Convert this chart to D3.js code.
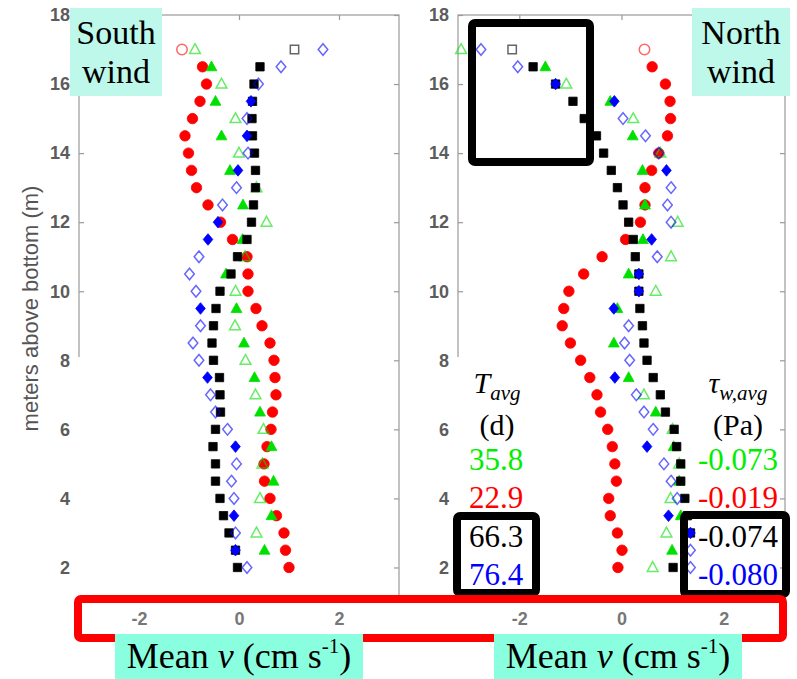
<!DOCTYPE html>
<html>
<head>
<meta charset="utf-8">
<script src="https://cdn.jsdelivr.net/npm/d3@7"></script>
<style>
  body { margin: 0; background: #fff; }
  svg { display: block; }
</style>
</head>
<body>
<svg id="fig" width="797" height="679"></svg>
<script>
// Measurement heights (m above bottom), top bin first
const depths = [17, 16.5, 16, 15.5, 15, 14.5, 14, 13.5, 13, 12.5, 12, 11.5, 11, 10.5, 10,
                9.5, 9, 8.5, 8, 7.5, 7, 6.5, 6, 5.5, 5, 4.5, 4, 3.5, 3, 2.5, 2];

// Mean v (cm/s) for south-wind events, one array per event
const southGreen = [-0.88, -0.55, -0.35, -0.47, -0.07, -0.35, 0.00, -0.18, 0.35, 0.08, 0.55, 0.07, 0.12, -0.26, -0.07,
                    -0.05, -0.08, 0.10, 0.13, 0.31, 0.33, 0.42, 0.49, 0.65, 0.47, 0.69, 0.42, 0.65, 0.35, 0.51, null];
const southRed   = [-1.14, -0.73, -0.65, -0.78, -0.93, -1.08, -1.01, -0.95, -0.85, -0.62, -0.37, -0.13, 0.16, 0.18, 0.18,
                    0.34, 0.46, 0.62, 0.70, 0.72, 0.74, 0.67, 0.64, 0.56, 0.50, 0.51, 0.62, 0.75, 0.90, 0.93, 1.00];
const southBlack = [1.11, 0.42, 0.30, 0.27, 0.26, 0.27, 0.31, 0.33, 0.33, 0.29, 0.25, 0.16, -0.03, -0.16, -0.38,
                    -0.46, -0.51, -0.54, -0.51, -0.39, -0.38, -0.37, -0.47, -0.52, -0.47, -0.47, -0.38, -0.31, -0.20, -0.07, -0.03];
const southBlue  = [1.68, 0.84, 0.39, 0.24, 0.16, 0.16, 0.18, -0.02, -0.05, -0.33, -0.42, -0.62, -0.80, -0.99, -0.86,
                    -0.77, -0.77, -0.92, -0.80, -0.63, -0.57, -0.47, -0.23, -0.07, -0.05, -0.15, -0.10, -0.10, -0.07, -0.07, 0.16];
const southBlueSolid = [15.5, 14.5, 13.5, 12, 11.5, 9.5, 7.5, 5.5, 3.5, 2.5];

// Mean v (cm/s) for north-wind events
const northGreen = [-3.14, -1.49, -1.08, -0.22, 0.23, 0.22, 0.76, 0.41, null, 0.46, 1.10, 0.42, 0.97, 0.14, 0.67,
                    -0.08, null, -0.15, null, 0.14, 0.44, 0.67, 1.00, 1.02, 1.13, 1.13, 0.96, 1.16, 0.88, 0.99, 0.61];
const northRed   = [0.45, 0.60, 0.86, 0.95, 0.96, 0.90, 0.73, 0.59, 0.46, 0.46, 0.37, 0.08, -0.38, -0.74, -1.03,
                    -1.13, -1.16, -1.00, -0.80, -0.62, -0.48, -0.41, -0.27, -0.18, -0.13, -0.10, -0.25, -0.22, -0.08, 0.01, -0.07];
const northBlack = [-2.14, -1.73, -1.29, -0.95, -0.73, -0.49, -0.35, -0.20, -0.08, 0.03, 0.14, 0.23, 0.27, 0.34, 0.34,
                    0.36, 0.41, 0.44, 0.50, 0.62, 0.76, 0.86, 1.03, 1.08, 1.16, 1.16, 1.24, 1.29, 1.35, null, 1.01];
const northBlue  = [-2.75, -2.03, -1.29, -0.14, 0.03, 0.47, 0.73, 0.88, 0.97, 0.90, 0.97, 0.59, 0.70, 0.34, 0.34,
                    -0.15, 0.14, 0.06, 0.16, -0.13, 0.29, 0.44, 0.62, 0.50, 0.83, 0.97, 1.09, 0.92, 1.35, 1.35, 1.35];
const northBlueSolid = [16, 15.5, 13.5, 11.5, 10.5, 10, 9.5, 7.5, 5.5, 3.5, 3];

// Event summaries: average duration (d) and mean wind stress (Pa)
const eventColors = ["#00ee00", "#ff0000", "#000000", "#0000ff"];
const tAvg = ["35.8", "22.9", "66.3", "76.4"];
const tauAvg = ["-0.073", "-0.019", "-0.074", "-0.080"];

const xTicks = [-2, 0, 2];
const yTicks = [2, 4, 6, 8, 10, 12, 14, 16, 18];
const panelTitles = [["South", "wind"], ["North", "wind"]];

const svg = d3.select("#fig");
const serif = "'Liberation Serif', 'Times New Roman', serif";
const sans = "'Liberation Sans', Arial, Helvetica, sans-serif";

// Marker shapes in the MATLAB style
const diamondType = { draw(ctx, size) { const h = 5.8, w = 4.8; ctx.moveTo(0, -h); ctx.lineTo(w, 0); ctx.lineTo(0, h); ctx.lineTo(-w, 0); ctx.closePath(); } };
const triangleType = { draw(ctx, size) { ctx.moveTo(0, -5.8); ctx.lineTo(5.4, 4); ctx.lineTo(-5.4, 4); ctx.closePath(); } };

const y = d3.scaleLinear().domain([1, 18]).range([602, 15]);

const panels = [
  { xr: [79, 399], green: southGreen, red: southRed, black: southBlack, blue: southBlue, blueSolid: southBlueSolid },
  { xr: [458, 785], green: northGreen, red: northRed, black: northBlack, blue: northBlue, blueSolid: northBlueSolid }
];

const axisGray = "#9a9a9a";
const tickText = "#5c5c5c";
const plainNum = d => String(d);

panels.forEach((p, pi) => {
  const x = d3.scaleLinear().domain([-3.2, 3.2]).range(p.xr);
  const g = svg.append("g");

  // Axes box
  g.append("rect").attr("x", p.xr[0]).attr("y", y(18)).attr("width", p.xr[1] - p.xr[0]).attr("height", y(1) - y(18))
    .attr("fill", "none").attr("stroke", axisGray).attr("stroke-width", 1.2);

  // Inward ticks on all four sides
  const yAxisL = d3.axisLeft(y).tickValues(yTicks).tickSize(-5).tickPadding(9).tickFormat(plainNum);
  const gl = g.append("g").attr("transform", `translate(${p.xr[0]},0)`).call(yAxisL);
  const yAxisR = d3.axisRight(y).tickValues(yTicks).tickSize(-5).tickFormat("");
  const gr = g.append("g").attr("transform", `translate(${p.xr[1]},0)`).call(yAxisR);
  const xAxisT = d3.axisTop(x).tickValues(xTicks).tickSize(-5).tickFormat("");
  const gt = g.append("g").attr("transform", `translate(0,${y(18)})`).call(xAxisT);
  const xAxisB = d3.axisBottom(x).tickValues(xTicks).tickSize(-5).tickPadding(10).tickFormat(plainNum);
  const gb = g.append("g").attr("transform", `translate(0,${y(1)})`).call(xAxisB);
  [gl, gr, gt, gb].forEach(a => {
    a.select(".domain").remove();
    a.selectAll(".tick line").attr("stroke", axisGray).attr("stroke-width", 1.2);
    a.selectAll(".tick text").attr("fill", tickText).attr("font-family", sans).attr("font-size", 18).attr("font-weight", "bold");
  });
  gb.selectAll(".tick text").attr("fill", "#777").attr("dy", "0.71em");

  // Velocity profiles
  const series = [
    { vals: p.red, color: "#ff0000", type: d3.symbolCircle, size: 86, solid: d => d !== 17 },
    { vals: p.green, color: "#00e000", type: triangleType, size: 0, solid: d => d % 1 !== 0 },
    { vals: p.black, color: "#000000", type: d3.symbolSquare, size: 70, solid: d => d !== 17 },
    { vals: p.blue, color: "#0000ff", type: diamondType, size: 0, solid: d => p.blueSolid.includes(d) }
  ];
  series.forEach(s => {
    const pts = depths.map((d, i) => ({ d, v: s.vals[i] })).filter(o => o.v !== null);
    g.append("g").selectAll("path").data(pts).join("path")
      .attr("transform", o => `translate(${x(o.v)},${y(o.d)})`)
      .attr("d", d3.symbol().type(s.type).size(s.size))
      .attr("fill", o => s.solid(o.d) ? s.color : "none")
      .attr("stroke", s.color)
      .attr("stroke-width", o => s.solid(o.d) ? 0.8 : 1.5)
      .attr("stroke-opacity", o => s.solid(o.d) ? 1 : 0.6);
  });
});

// Axis label
svg.append("text").attr("transform", `translate(38,${(y(1) + y(18)) / 2}) rotate(-90)`)
  .attr("text-anchor", "middle").attr("font-family", sans).attr("font-size", 22)
  .attr("fill", "#555").text("meters above bottom (m)");

// Blank patches behind the annotation columns
svg.append("rect").attr("x", 75).attr("y", 357).attr("width", 73).attr("height", 240).attr("fill", "#fff");
svg.append("rect").attr("x", 455).attr("y", 357).attr("width", 84).attr("height", 240).attr("fill", "#fff");

// Duration column
const tCol = svg.append("g").attr("font-family", serif).attr("text-anchor", "middle");
const tHead = tCol.append("text").attr("x", 497).attr("y", 393).attr("font-size", 30).attr("fill", "#000");
tHead.append("tspan").attr("font-style", "italic").text("T");
tHead.append("tspan").attr("font-style", "italic").attr("font-size", 21).attr("dy", 7).text("avg");
tCol.append("text").attr("x", 497).attr("y", 435).attr("font-size", 30).text("(d)");
tCol.selectAll("text.val").data(tAvg).join("text").attr("class", "val")
  .attr("x", 496).attr("y", (d, i) => [470, 508, 547, 585][i])
  .attr("font-size", 31).attr("fill", (d, i) => eventColors[i]).text(d => d);

// Wind stress column
const sCol = svg.append("g").attr("font-family", serif).attr("text-anchor", "middle");
const sHead = sCol.append("text").attr("x", 738).attr("y", 393).attr("font-size", 30).attr("fill", "#000");
sHead.append("tspan").attr("font-style", "italic").text("τ");
sHead.append("tspan").attr("font-style", "italic").attr("font-size", 21).attr("dy", 7).text("w,avg");
sCol.append("text").attr("x", 738).attr("y", 435).attr("font-size", 30).text("(Pa)");
sCol.selectAll("text.val").data(tauAvg).join("text").attr("class", "val")
  .attr("x", 738).attr("y", (d, i) => [470, 508, 547, 585][i])
  .attr("font-size", 31).attr("fill", (d, i) => eventColors[i]).text(d => d);

// Highlight frames
const frame = (x0, y0, w, h, color, sw) =>
  svg.append("rect").attr("x", x0).attr("y", y0).attr("width", w).attr("height", h)
    .attr("rx", 3).attr("fill", "none").attr("stroke", color).attr("stroke-width", sw);
frame(472, 23, 118, 139, "#000", 8);
frame(457, 516, 79, 77, "#000", 8);
frame(684, 515, 102, 79, "#000", 8);
frame(78, 599, 705, 39, "#ff0000", 8);

// Panel titles
const titleBoxes = [{ x: 70, w: 92 }, { x: 692, w: 98 }];
titleBoxes.forEach((b, i) => {
  svg.append("rect").attr("x", b.x).attr("y", 8).attr("width", b.w).attr("height", 88).attr("fill", "#bdf8ea");
  svg.append("text").attr("x", b.x + b.w / 2).attr("y", 44).attr("text-anchor", "middle")
    .attr("font-family", serif).attr("font-size", 34).text(panelTitles[i][0]);
  svg.append("text").attr("x", b.x + b.w / 2).attr("y", 83).attr("text-anchor", "middle")
    .attr("font-family", serif).attr("font-size", 34).text(panelTitles[i][1]);
});

// x-axis titles
[{ x: 115, w: 248 }, { x: 494, w: 248 }].forEach(b => {
  svg.append("rect").attr("x", b.x).attr("y", 634).attr("width", b.w).attr("height", 45).attr("fill", "#8affdf");
  const t = svg.append("text").attr("x", b.x + b.w / 2).attr("y", 668).attr("text-anchor", "middle")
    .attr("font-family", serif).attr("font-size", 36);
  t.append("tspan").text("Mean ");
  t.append("tspan").attr("font-style", "italic").text("v");
  t.append("tspan").text(" (cm s");
  t.append("tspan").attr("font-size", 21).attr("dy", -15).text("-1");
  t.append("tspan").attr("dy", 15).text(")");
});
</script>
</body>
</html>
